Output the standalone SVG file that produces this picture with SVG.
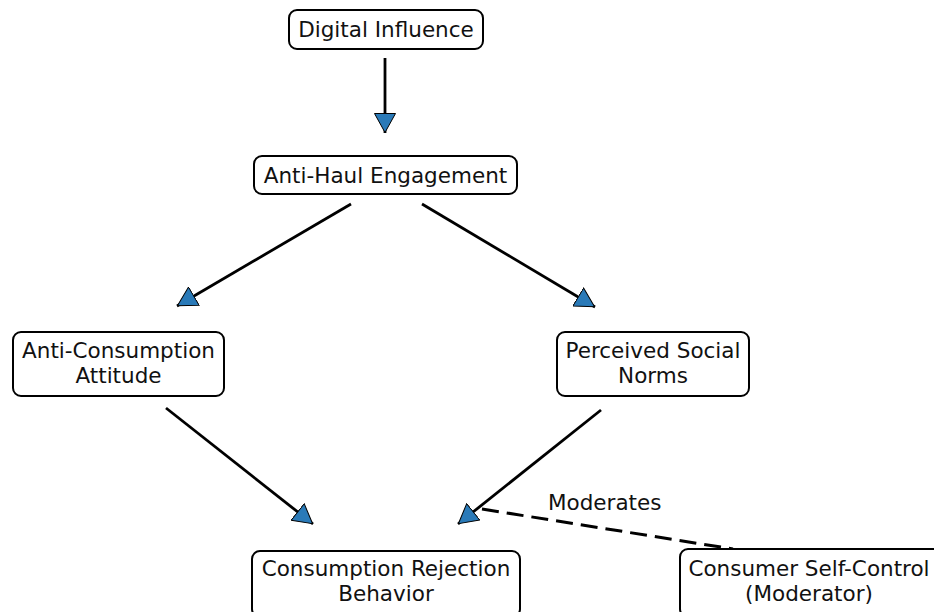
<svg xmlns="http://www.w3.org/2000/svg" width="934" height="612" viewBox="0 0 934 612">
<style>
.box{fill:#fff;stroke:#000;stroke-width:2}
.lbl{font-family:"DejaVu Sans",sans-serif;font-size:21.5px;fill:#111;text-anchor:middle}
.edge{stroke:#000;stroke-width:2.8;fill:none}
.dash{stroke:#000;stroke-width:3;fill:none;stroke-dasharray:17 8}
</style>
<defs>
<marker id="ah" viewBox="0 0 20 22" refX="20" refY="11" markerWidth="20" markerHeight="22" markerUnits="userSpaceOnUse" orient="auto">
<path d="M0.5,0.5 L19.5,11 L0.5,21.5 z" fill="#2a7ab8" stroke="#000" stroke-width="1"/>
</marker>
</defs>
<rect width="934" height="612" fill="#fff"/>
<g id="connectors">
<line class="edge" x1="385" y1="58" x2="385" y2="133" marker-end="url(#ah)"/>
<line class="edge" x1="351" y1="204" x2="177" y2="306" marker-end="url(#ah)"/>
<line class="edge" x1="422" y1="204" x2="595" y2="307" marker-end="url(#ah)"/>
<line class="edge" x1="166" y1="408" x2="313" y2="524" marker-end="url(#ah)"/>
<line class="edge" x1="601" y1="410" x2="458" y2="524" marker-end="url(#ah)"/>
<line class="dash" x1="482" y1="509" x2="733" y2="549"/>
<text class="lbl" x="548" y="510" style="text-anchor:start">Moderates</text>
</g>
<g id="digital-influence">
<rect class="box" x="289" y="10" width="194" height="39" rx="8"/>
<text class="lbl" x="386" y="37">Digital Influence</text>
</g>
<g id="anti-haul-engagement">
<rect class="box" x="254" y="156" width="263" height="38" rx="8"/>
<text class="lbl" x="385.5" y="183">Anti-Haul Engagement</text>
</g>
<g id="anti-consumption-attitude">
<rect class="box" x="13" y="332" width="211" height="64" rx="8"/>
<text class="lbl" x="118.5" y="358">Anti-Consumption</text>
<text class="lbl" x="118.5" y="383">Attitude</text>
</g>
<g id="perceived-social-norms">
<rect class="box" x="557" y="332" width="192" height="64" rx="8"/>
<text class="lbl" x="653" y="358">Perceived Social</text>
<text class="lbl" x="653" y="383">Norms</text>
</g>
<g id="consumption-rejection-behavior">
<rect class="box" x="252" y="551" width="268" height="66" rx="8"/>
<text class="lbl" x="386" y="576">Consumption Rejection</text>
<text class="lbl" x="386" y="601">Behavior</text>
</g>
<g id="consumer-self-control">
<rect class="box" x="680" y="549" width="262" height="68" rx="8"/>
<text class="lbl" x="809" y="576">Consumer Self-Control</text>
<text class="lbl" x="809" y="601">(Moderator)</text>
</g>
</svg>
